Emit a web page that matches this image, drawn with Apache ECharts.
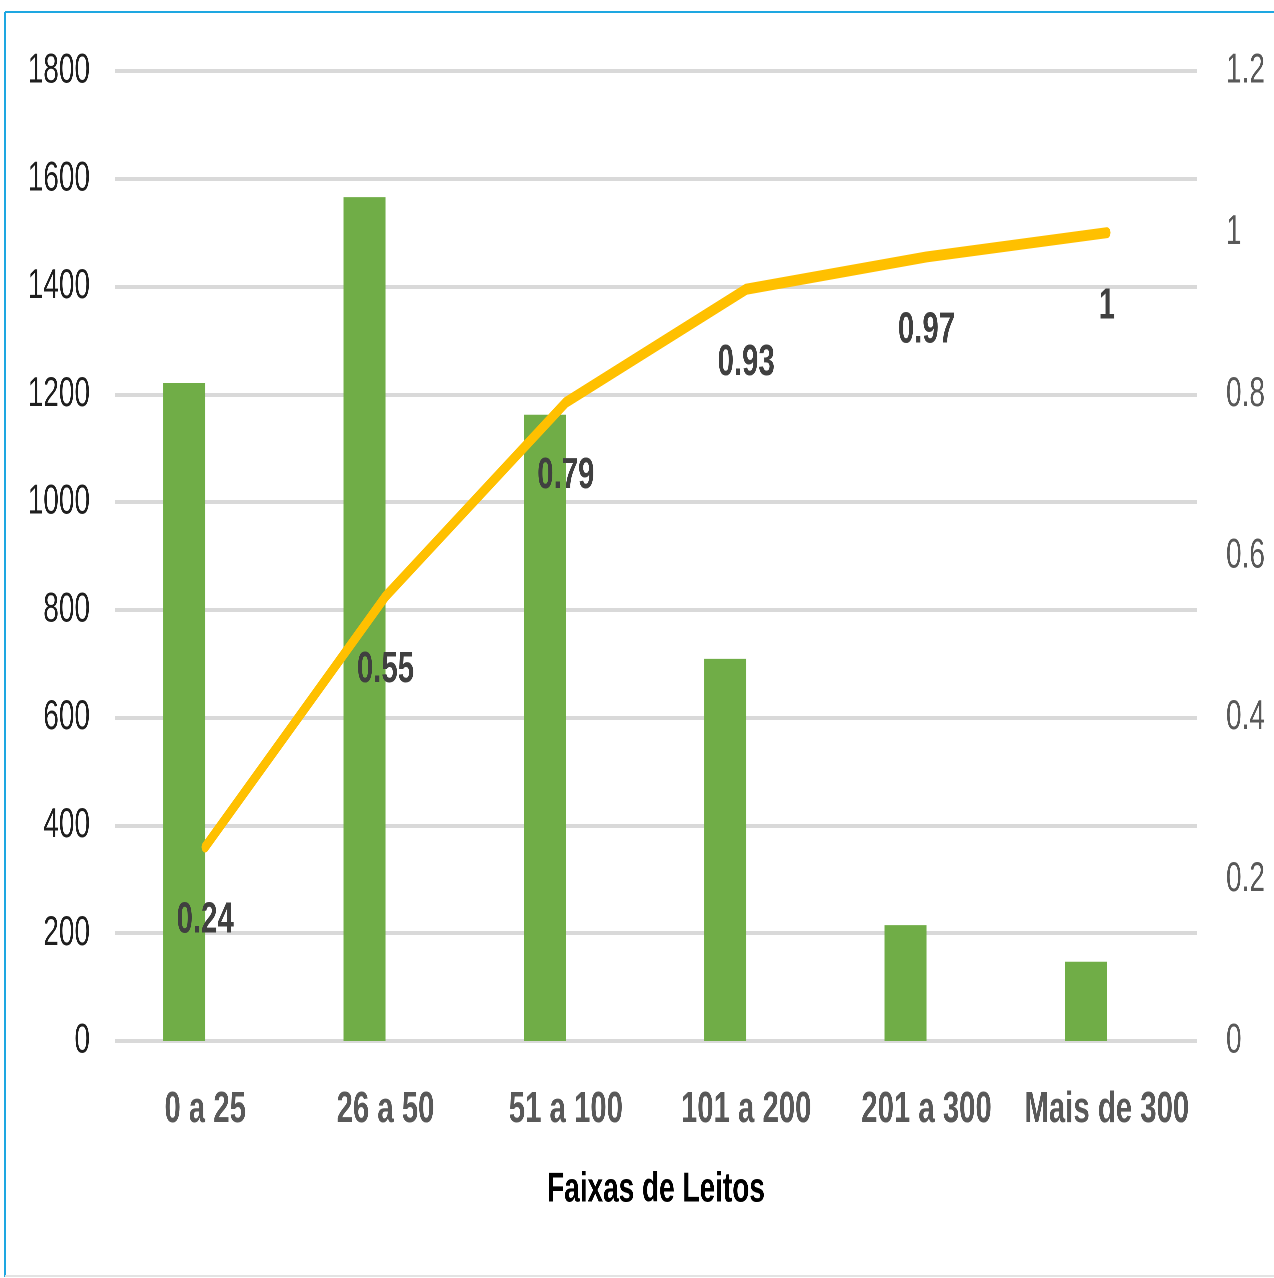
<!DOCTYPE html>
<html>
<head>
<meta charset="utf-8">
<script src="https://cdn.jsdelivr.net/npm/echarts@6/dist/echarts.min.js"></script>
<style>
  html, body { margin: 0; padding: 0; background: #fff; overflow: hidden; }
  #frame { width: 1274px; height: 1278px; overflow: hidden; position: relative; }
  /* the chart is laid out 1.5x wider and squeezed back, giving the condensed lettering */
  #chart { width: 1911px; height: 1278px; transform: scaleX(0.666667); transform-origin: 0 0; }
</style>
</head>
<body>
<div id="frame"><div id="chart"></div></div>
<script>
// Bed-range categories
const categories = ['0 a 25', '26 a 50', '51 a 100', '101 a 200', '201 a 300', 'Mais de 300'];
// Number of hospitals per range (left axis)
const counts = [1221, 1566, 1162, 709, 215, 147];
// Cumulative share (right axis)
const cumulative = [0.24, 0.55, 0.79, 0.93, 0.97, 1];
// Axis tick values
const leftTicks = [0, 200, 400, 600, 800, 1000, 1200, 1400, 1600, 1800];
const rightTicks = [0, 0.2, 0.4, 0.6, 0.8, 1, 1.2];

const SX = 1.5; // horizontal layout factor undone by the CSS squeeze
const FONT = '"Liberation Sans", Arial, sans-serif';

const chart = echarts.init(document.getElementById('chart'), null, { renderer: 'canvas', devicePixelRatio: 2 });

chart.setOption({
  backgroundColor: '#ffffff',
  animation: false,
  graphic: [
    { type: 'line', shape: { x1: 5 * SX, y1: 12, x2: 1274 * SX, y2: 12 }, style: { stroke: '#1EA7E1', lineWidth: 2 } },
    { type: 'line', shape: { x1: 5 * SX, y1: 12, x2: 5 * SX, y2: 1277 }, style: { stroke: '#1EA7E1', lineWidth: 3 } },
    { type: 'line', shape: { x1: 5 * SX, y1: 1276, x2: 1274 * SX, y2: 1276 }, style: { stroke: '#E3E3E3', lineWidth: 2 } }
  ],
  grid: { left: 115 * SX, right: 77 * SX, top: 71, bottom: 237, containLabel: false, outerBoundsMode: 'none' },
  xAxis: {
    type: 'category',
    data: categories,
    axisLine: { show: false },
    axisTick: { show: false },
    axisLabel: { interval: 0, fontFamily: FONT, fontSize: 44, fontWeight: 'bold', color: '#595959', margin: 47 },
    name: 'Faixas de Leitos',
    nameLocation: 'middle',
    nameGap: 128,
    nameTextStyle: { fontFamily: FONT, fontSize: 42, fontWeight: 'bold', color: '#000000' }
  },
  yAxis: [
    {
      type: 'value',
      min: leftTicks[0],
      max: leftTicks[leftTicks.length - 1],
      interval: 200,
      axisLine: { show: false },
      axisTick: { show: false },
      splitLine: { lineStyle: { color: '#D9D9D9', width: 4 } },
      axisLabel: { fontFamily: FONT, fontSize: 42, color: '#1F1F1F', margin: 25 * SX, padding: [4, 0, 0, 0], formatter: v => String(v) }
    },
    {
      type: 'value',
      min: rightTicks[0],
      max: rightTicks[rightTicks.length - 1],
      interval: 0.2,
      axisLine: { show: false },
      axisTick: { show: false },
      splitLine: { show: false },
      axisLabel: {
        fontFamily: FONT, fontSize: 42, color: '#595959', margin: 29 * SX, padding: [4, 0, 0, 0],
        formatter: v => String(Math.round(v * 10) / 10)
      }
    }
  ],
  series: [
    {
      name: 'Hospitais',
      type: 'bar',
      yAxisIndex: 0,
      data: counts,
      barWidth: 42 * SX,
      barGap: '0%',
      itemStyle: { color: '#70AD47' }
    },
    {
      // empty companion slot so each bar sits left of its category centre
      name: 'slot',
      type: 'bar',
      yAxisIndex: 0,
      data: counts.map(() => null),
      barWidth: 42 * SX,
      itemStyle: { color: 'transparent' }
    },
    {
      name: 'Acumulado',
      type: 'line',
      yAxisIndex: 1,
      data: cumulative,
      symbol: 'circle',
      symbolSize: 1,
      showSymbol: true,
      itemStyle: { color: 'rgba(0,0,0,0)' },
      lineStyle: { color: '#FFC000', width: 11, cap: 'round', join: 'round' },
      label: {
        show: true,
        position: 'bottom',
        distance: 51,
        fontFamily: FONT,
        fontSize: 44,
        fontWeight: 'bold',
        color: '#404040',
        formatter: p => String(p.value)
      },
      z: 5
    }
  ]
});
</script>
</body>
</html>
